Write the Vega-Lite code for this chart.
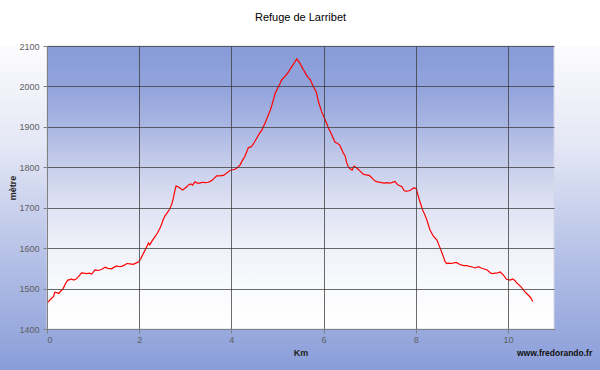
{
  "$schema": "https://vega.github.io/schema/vega-lite/v6.json",
  "width": 507,
  "height": 283,
  "autosize": {"type": "none"},
  "padding": {"left": 47, "top": 46, "right": 46, "bottom": 41},
  "background": "#ffffff",
  "config": {"font": "Liberation Sans", "view": {"stroke": null}},
  "title": {"text": "Refuge de Larribet", "fontSize": 11, "fontWeight": "normal", "color": "#000000", "anchor": "middle", "frame": "group", "baseline": "bottom", "offset": 8},
  "layer": [
    {
      "data": {"values": [{}]},
      "mark": {"type": "rect", "clip": false, "fill": {"gradient": "linear", "x1": 0, "y1": 0, "x2": 0, "y2": 1, "stops": [{"offset": 0, "color": "#fcfcfe"}, {"offset": 0.3, "color": "#e4e7f5"}, {"offset": 0.65, "color": "#b3bfe6"}, {"offset": 1, "color": "#879bd8"}]}},
      "encoding": {
        "x": {"datum": -1.1, "type": "quantitative", "scale": {"domain": [0, 11], "nice": false}},
        "x2": {"datum": 12.1},
        "y": {"datum": 2100, "type": "quantitative", "scale": {"domain": [1400, 2100], "nice": false}},
        "y2": {"datum": 1280}
      }
    },
    {
      "data": {"values": [{}]},
      "mark": {"type": "rect", "stroke": "#d4d8e6", "strokeWidth": 1, "fill": {"gradient": "linear", "x1": 0, "y1": 0, "x2": 0, "y2": 1, "stops": [{"offset": 0, "color": "#889bd8"}, {"offset": 0.15, "color": "#93a4dc"}, {"offset": 0.3, "color": "#adb9e4"}, {"offset": 0.43, "color": "#c8cfec"}, {"offset": 0.57, "color": "#dfe3f3"}, {"offset": 0.71, "color": "#eff1f9"}, {"offset": 0.86, "color": "#fafbfd"}, {"offset": 1, "color": "#ffffff"}]}},
      "encoding": {
        "x": {"datum": 0, "type": "quantitative", "scale": {"domain": [0, 11], "nice": false}},
        "x2": {"datum": 11},
        "y": {"datum": 2100, "type": "quantitative", "scale": {"domain": [1400, 2100], "nice": false}},
        "y2": {"datum": 1400}
      }
    },
    {
      "data": {"values": [
        {"km": 0.00, "alt": 1465}, {"km": 0.05, "alt": 1470}, {"km": 0.10, "alt": 1476}, {"km": 0.14, "alt": 1480},
        {"km": 0.17, "alt": 1491}, {"km": 0.21, "alt": 1490}, {"km": 0.26, "alt": 1488}, {"km": 0.30, "alt": 1494},
        {"km": 0.35, "alt": 1500}, {"km": 0.40, "alt": 1512}, {"km": 0.45, "alt": 1521}, {"km": 0.50, "alt": 1522},
        {"km": 0.53, "alt": 1524}, {"km": 0.58, "alt": 1521}, {"km": 0.64, "alt": 1524}, {"km": 0.70, "alt": 1532},
        {"km": 0.75, "alt": 1539}, {"km": 0.80, "alt": 1538}, {"km": 0.86, "alt": 1537}, {"km": 0.92, "alt": 1538},
        {"km": 0.97, "alt": 1536}, {"km": 1.04, "alt": 1546}, {"km": 1.10, "alt": 1545}, {"km": 1.15, "alt": 1546},
        {"km": 1.21, "alt": 1549}, {"km": 1.26, "alt": 1553}, {"km": 1.32, "alt": 1550}, {"km": 1.40, "alt": 1549},
        {"km": 1.46, "alt": 1553}, {"km": 1.51, "alt": 1556}, {"km": 1.57, "alt": 1554}, {"km": 1.62, "alt": 1555},
        {"km": 1.68, "alt": 1558}, {"km": 1.73, "alt": 1562}, {"km": 1.80, "alt": 1561}, {"km": 1.87, "alt": 1560},
        {"km": 1.93, "alt": 1563}, {"km": 1.99, "alt": 1566}, {"km": 2.04, "alt": 1575}, {"km": 2.09, "alt": 1587},
        {"km": 2.15, "alt": 1600}, {"km": 2.20, "alt": 1613}, {"km": 2.23, "alt": 1608}, {"km": 2.28, "alt": 1618},
        {"km": 2.34, "alt": 1628}, {"km": 2.40, "alt": 1638}, {"km": 2.45, "alt": 1649}, {"km": 2.49, "alt": 1660},
        {"km": 2.52, "alt": 1670}, {"km": 2.56, "alt": 1680}, {"km": 2.60, "alt": 1686}, {"km": 2.67, "alt": 1698},
        {"km": 2.71, "alt": 1710}, {"km": 2.74, "alt": 1723}, {"km": 2.77, "alt": 1740}, {"km": 2.80, "alt": 1754},
        {"km": 2.84, "alt": 1752}, {"km": 2.87, "alt": 1750}, {"km": 2.94, "alt": 1744}, {"km": 2.98, "alt": 1747},
        {"km": 3.03, "alt": 1752}, {"km": 3.08, "alt": 1757}, {"km": 3.12, "alt": 1759}, {"km": 3.16, "alt": 1756},
        {"km": 3.21, "alt": 1764}, {"km": 3.26, "alt": 1761}, {"km": 3.32, "alt": 1761}, {"km": 3.37, "alt": 1763},
        {"km": 3.43, "alt": 1762}, {"km": 3.50, "alt": 1763}, {"km": 3.57, "alt": 1767}, {"km": 3.62, "alt": 1772},
        {"km": 3.68, "alt": 1779}, {"km": 3.75, "alt": 1779}, {"km": 3.83, "alt": 1780}, {"km": 3.90, "alt": 1786},
        {"km": 3.97, "alt": 1792}, {"km": 4.03, "alt": 1794}, {"km": 4.08, "alt": 1795}, {"km": 4.14, "alt": 1800},
        {"km": 4.19, "alt": 1806}, {"km": 4.24, "alt": 1817}, {"km": 4.29, "alt": 1826}, {"km": 4.33, "alt": 1838},
        {"km": 4.37, "alt": 1849}, {"km": 4.41, "alt": 1850}, {"km": 4.44, "alt": 1852}, {"km": 4.50, "alt": 1862},
        {"km": 4.55, "alt": 1872}, {"km": 4.60, "alt": 1882}, {"km": 4.66, "alt": 1892}, {"km": 4.73, "alt": 1909},
        {"km": 4.80, "alt": 1929}, {"km": 4.84, "alt": 1940}, {"km": 4.88, "alt": 1954}, {"km": 4.92, "alt": 1970},
        {"km": 4.95, "alt": 1983}, {"km": 5.02, "alt": 1999}, {"km": 5.06, "alt": 2008}, {"km": 5.09, "alt": 2016},
        {"km": 5.16, "alt": 2024}, {"km": 5.20, "alt": 2030}, {"km": 5.24, "alt": 2036}, {"km": 5.31, "alt": 2049},
        {"km": 5.38, "alt": 2061}, {"km": 5.42, "alt": 2068}, {"km": 5.45, "alt": 2063}, {"km": 5.49, "alt": 2057},
        {"km": 5.56, "alt": 2042}, {"km": 5.63, "alt": 2028}, {"km": 5.67, "alt": 2022}, {"km": 5.71, "alt": 2017},
        {"km": 5.78, "alt": 1999}, {"km": 5.84, "alt": 1987}, {"km": 5.89, "alt": 1962}, {"km": 5.96, "alt": 1937},
        {"km": 6.03, "alt": 1919}, {"km": 6.10, "alt": 1899}, {"km": 6.16, "alt": 1885}, {"km": 6.21, "alt": 1872},
        {"km": 6.25, "alt": 1862}, {"km": 6.29, "alt": 1860}, {"km": 6.35, "alt": 1855}, {"km": 6.39, "alt": 1845},
        {"km": 6.43, "alt": 1835}, {"km": 6.47, "alt": 1828}, {"km": 6.50, "alt": 1812}, {"km": 6.54, "alt": 1801},
        {"km": 6.57, "alt": 1797}, {"km": 6.62, "alt": 1793}, {"km": 6.66, "alt": 1803}, {"km": 6.70, "alt": 1800},
        {"km": 6.75, "alt": 1795}, {"km": 6.80, "alt": 1790}, {"km": 6.86, "alt": 1783}, {"km": 6.92, "alt": 1781},
        {"km": 6.99, "alt": 1780}, {"km": 7.03, "alt": 1776}, {"km": 7.08, "alt": 1770}, {"km": 7.12, "alt": 1766},
        {"km": 7.17, "alt": 1764}, {"km": 7.26, "alt": 1762}, {"km": 7.32, "alt": 1761}, {"km": 7.37, "alt": 1762},
        {"km": 7.43, "alt": 1761}, {"km": 7.48, "alt": 1762}, {"km": 7.55, "alt": 1765}, {"km": 7.58, "alt": 1760},
        {"km": 7.62, "alt": 1756}, {"km": 7.70, "alt": 1752}, {"km": 7.75, "alt": 1742}, {"km": 7.80, "alt": 1741},
        {"km": 7.86, "alt": 1742}, {"km": 7.91, "alt": 1745}, {"km": 7.95, "alt": 1749}, {"km": 8.01, "alt": 1748},
        {"km": 8.04, "alt": 1735}, {"km": 8.08, "alt": 1719}, {"km": 8.15, "alt": 1694}, {"km": 8.20, "alt": 1682},
        {"km": 8.24, "alt": 1670}, {"km": 8.31, "alt": 1645}, {"km": 8.38, "alt": 1630}, {"km": 8.42, "alt": 1625},
        {"km": 8.46, "alt": 1620}, {"km": 8.53, "alt": 1600}, {"km": 8.60, "alt": 1579}, {"km": 8.64, "alt": 1566},
        {"km": 8.67, "alt": 1562}, {"km": 8.72, "alt": 1563}, {"km": 8.78, "alt": 1562}, {"km": 8.84, "alt": 1564},
        {"km": 8.89, "alt": 1564}, {"km": 8.95, "alt": 1560}, {"km": 9.00, "alt": 1558}, {"km": 9.05, "alt": 1557},
        {"km": 9.11, "alt": 1557}, {"km": 9.16, "alt": 1555}, {"km": 9.21, "alt": 1554}, {"km": 9.29, "alt": 1551},
        {"km": 9.36, "alt": 1554}, {"km": 9.42, "alt": 1551}, {"km": 9.47, "alt": 1549}, {"km": 9.55, "alt": 1546},
        {"km": 9.63, "alt": 1538}, {"km": 9.68, "alt": 1537}, {"km": 9.72, "alt": 1538}, {"km": 9.78, "alt": 1539},
        {"km": 9.83, "alt": 1541}, {"km": 9.90, "alt": 1534}, {"km": 9.97, "alt": 1523}, {"km": 10.05, "alt": 1521},
        {"km": 10.10, "alt": 1524}, {"km": 10.15, "alt": 1520}, {"km": 10.19, "alt": 1514}, {"km": 10.23, "alt": 1510},
        {"km": 10.28, "alt": 1505}, {"km": 10.33, "alt": 1498}, {"km": 10.37, "alt": 1492}, {"km": 10.44, "alt": 1484},
        {"km": 10.49, "alt": 1478}, {"km": 10.54, "alt": 1468}
      ]},
      "mark": {"type": "line", "color": "#ff0000", "strokeWidth": 1.2},
      "encoding": {
        "x": {"field": "km", "type": "quantitative", "scale": {"domain": [0, 11], "nice": false},
          "axis": {"title": "Km", "values": [0, 2, 4, 6, 8, 10], "format": "d", "grid": true, "gridColor": "#3a3a3a", "gridOpacity": 0.75, "gridWidth": 1,
            "domainColor": "#808080", "tickColor": "#808080", "tickSize": 4, "labelPadding": 2, "labelFontSize": 9, "labelColor": "#606060",
            "titleFontSize": 9, "titleFontWeight": "bold", "titleColor": "#222222", "titlePadding": 4, "zindex": 1}},
        "y": {"field": "alt", "type": "quantitative", "scale": {"domain": [1400, 2100], "nice": false},
          "axis": {"title": "mètre", "values": [1400, 1500, 1600, 1700, 1800, 1900, 2000, 2100], "format": "d", "grid": true, "gridColor": "#3a3a3a", "gridOpacity": 0.75, "gridWidth": 1,
            "domainColor": "#808080", "tickColor": "#808080", "tickSize": 4, "labelPadding": 4, "labelFontSize": 9, "labelColor": "#606060",
            "titleFontSize": 9, "titleFontWeight": "bold", "titleColor": "#222222", "titlePadding": 1, "zindex": 1}}
      }
    },
    {
      "data": {"values": [{}]},
      "mark": {"type": "text", "clip": false, "align": "right", "baseline": "alphabetic", "fontSize": 8.5, "fontWeight": "bold", "color": "#111111", "text": "www.fredorando.fr"},
      "encoding": {
        "x": {"datum": 11.83, "type": "quantitative", "scale": {"domain": [0, 11], "nice": false}},
        "y": {"datum": 1333, "type": "quantitative", "scale": {"domain": [1400, 2100], "nice": false}}
      }
    }
  ]
}
